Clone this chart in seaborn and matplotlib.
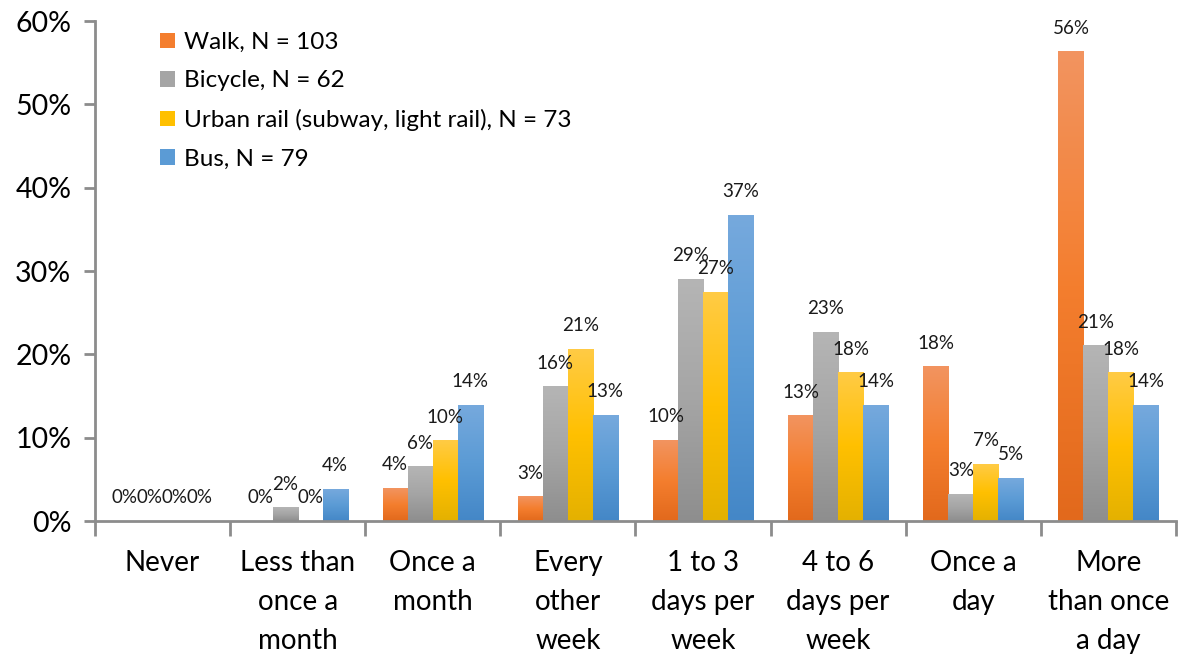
import numpy as np
import pandas as pd
import matplotlib
matplotlib.use("Agg")
import matplotlib.pyplot as plt
import seaborn as sns
from matplotlib.colors import LinearSegmentedColormap
from matplotlib.patches import Patch

# ── Data ──────────────────────────────────────────────────────────────────────
frequency = ["Never", "Less than\nonce a\nmonth", "Once a\nmonth", "Every\nother\nweek",
             "1 to 3\ndays per\nweek", "4 to 6\ndays per\nweek", "Once a\nday",
             "More\nthan once\na day"]
series = ["Walk, N = 103", "Bicycle, N = 62",
          "Urban rail (subway, light rail), N = 73", "Bus, N = 79"]
walk = [0.0, 0.0, 3.9, 2.9, 9.7, 12.6, 18.5, 56.3]
bicycle = [0.0, 1.6, 6.5, 16.1, 29.0, 22.6, 3.2, 21.0]
urban_rail = [0.0, 0.0, 9.6, 20.6, 27.4, 17.8, 6.8, 17.8]
bus = [0.0, 3.8, 13.9, 12.7, 36.7, 13.9, 5.1, 13.9]

# gradient stops (top, middle, bottom) per series
grad_colors = [
    ["#F29460", "#F47E2E", "#E2691C"],
    ["#B5B5B5", "#A5A5A5", "#8E8E8E"],
    ["#FFCB45", "#FFC000", "#E4B100"],
    ["#76A9DD", "#5B9BD5", "#4487C7"],
]

df = pd.DataFrame({
    "freq": np.tile(frequency, 4),
    "mode": np.repeat(series, len(frequency)),
    "pct": walk + bicycle + urban_rail + bus,
})

plt.rcParams["font.family"] = ["Lato", "DejaVu Sans"]

fig = plt.figure(figsize=(11.86, 6.58), dpi=100)
ax = fig.add_axes([0.080, 0.208, 0.9116, 0.760])

sns.barplot(data=df, x="freq", y="pct", hue="mode", order=frequency, hue_order=series,
            palette=[c[1] for c in grad_colors], width=0.74, legend=False, ax=ax)

# gradient fill + value labels
for cont, cols in zip(ax.containers, grad_colors):
    cmap = LinearSegmentedColormap.from_list("g", cols[::-1])
    grad = np.linspace(0, 1, 256).reshape(-1, 1)
    for bar in cont:
        x, w, h = bar.get_x(), bar.get_width(), bar.get_height()
        if h > 0:
            ax.imshow(grad, cmap=cmap, origin="lower", aspect="auto",
                      extent=[x, x + w, 0, h], zorder=2)
            bar.set_facecolor("none")
        ax.annotate(f"{h:.0f}%", (x + w / 2, h), xytext=(0, 11),
                    textcoords="offset points", ha="center", va="bottom",
                    fontsize=13.5, color="#1a1a1a", zorder=3)

ax.set_ylim(0, 60)
ax.set_xlim(-0.5, len(frequency) - 0.5)

# axes styling
for s in ["top", "right"]:
    ax.spines[s].set_visible(False)
for s in ["left", "bottom"]:
    ax.spines[s].set_color("#8c8c8c")
    ax.spines[s].set_linewidth(2)
ax.set_yticks(range(0, 61, 10))
ax.set_yticklabels([f"{v}%" for v in range(0, 61, 10)])
ax.tick_params(axis="y", length=8, width=2, color="#8c8c8c", labelsize=20.5, pad=9)
ax.set_xticks(range(len(frequency)))
ax.set_xticklabels(frequency, fontsize=20, linespacing=1.62)
ax.tick_params(axis="x", which="major", length=0, pad=21)
ax.set_xticks(np.arange(-0.5, len(frequency), 1), minor=True)
ax.tick_params(axis="x", which="minor", length=11, width=2, color="#8c8c8c")
ax.set_xlabel("")
ax.set_ylabel("")

handles = [Patch(facecolor=c[1], edgecolor="none") for c in grad_colors]
ax.legend(handles, series, loc="upper left", bbox_to_anchor=(0.04, 1.022),
          frameon=False, fontsize=17.5, handlelength=0.6, handleheight=0.6,
          handletextpad=0.4, labelspacing=0.72)

fig.savefig("out.png", dpi=100)
